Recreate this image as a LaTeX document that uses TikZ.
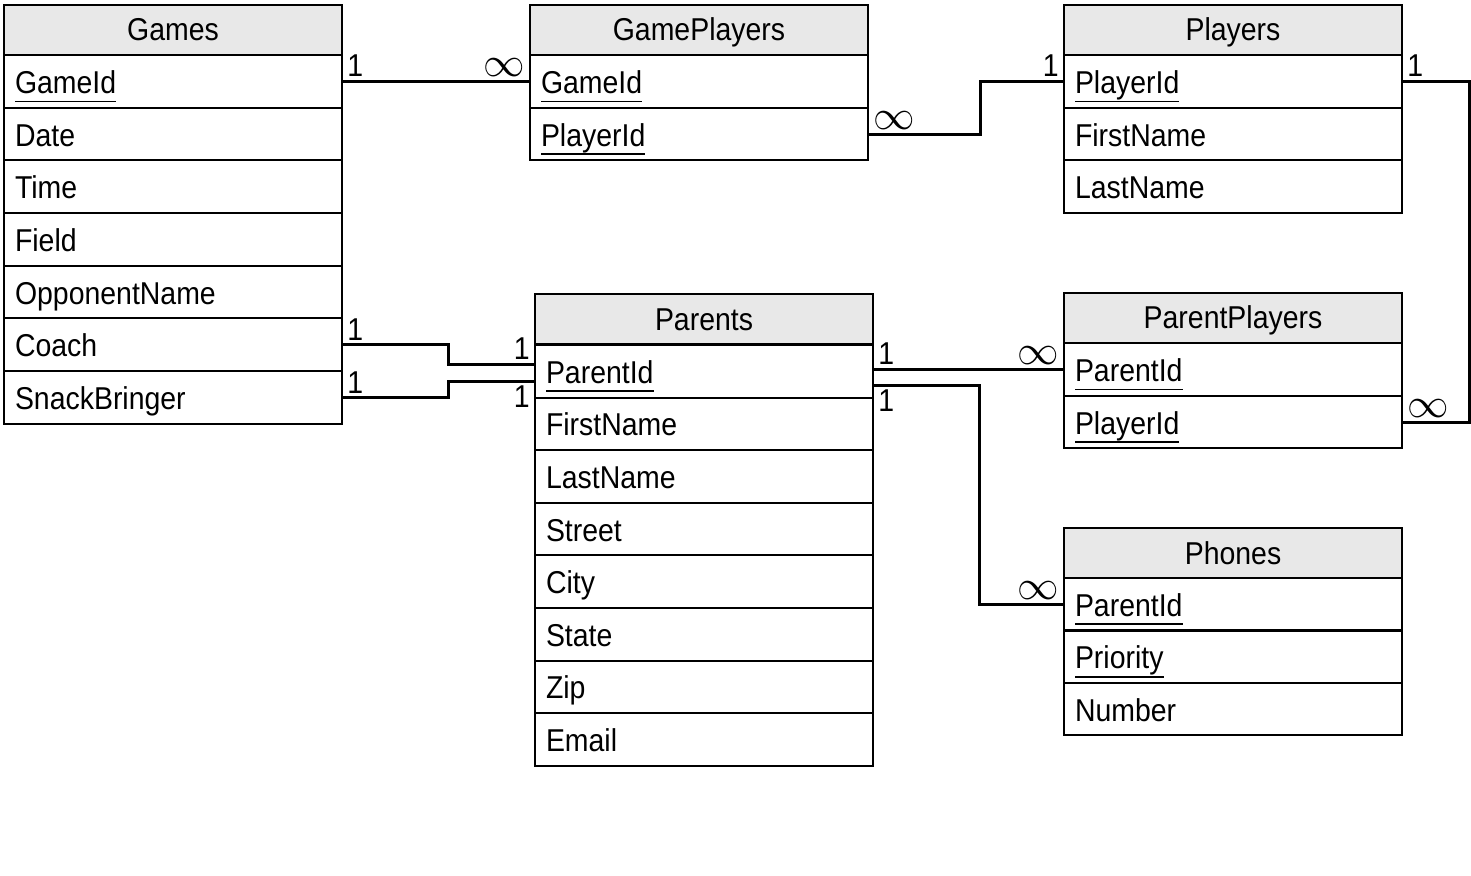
\documentclass[tikz,border=0pt]{standalone}
\usepackage{fontspec}
\setmainfont{Liberation Sans}[FakeStretch=0.9]
\usetikzlibrary{positioning,calc}

\newcommand\erfont{\fontsize{15.8}{18}\selectfont}
\newcommand\pkey[1]{\setbox0\hbox{#1}\rlap{\rule[-4.5pt]{\wd0}{0.9pt}}\box0}
\newcommand\many{{\fontsize{20}{20}\selectfont$\infty$}}

\tikzset{
  tblhead/.style={draw, line width=1pt, fill=black!9, minimum width=169pt,
    minimum height=25pt, inner sep=0pt, text height=14pt, text depth=3pt,
    font=\erfont},
  tblrow/.style={draw, line width=1pt, text width=158pt, inner xsep=5.5pt,
    inner ysep=0pt, minimum height=26.35pt, text height=14.5pt,
    text depth=2.5pt, align=left, font=\erfont},
  rel/.style={line width=1.5pt},
  card/.style={inner sep=2pt, font=\erfont}
}

\begin{document}
\begin{tikzpicture}[x=0.5pt,y=-0.5pt]

\useasboundingbox (0,0) rectangle (1471,876);

% Games
\node[tblhead] (games) at (173,30) {Games};
\foreach \i/\t in {
1/\pkey{GameId},2/Date,3/Time,4/Field,
5/OpponentName,6/Coach,7/SnackBringer
}
{
\node[tblrow] (games-\i) at (173,{55+(\i-0.5)*52.7}) {\t};
}

% GamePlayers
\node[tblhead] (gp) at (699,30) {GamePlayers};
\foreach \i/\t in {1/\pkey{GameId},2/\pkey{PlayerId}}
{
\node[tblrow] (gp-\i) at (699,{55+(\i-0.5)*52.7}) {\t};
}

% Players
\node[tblhead] (pl) at (1233,30) {Players};
\foreach \i/\t in {1/\pkey{PlayerId},2/FirstName,3/LastName}
{
\node[tblrow] (pl-\i) at (1233,{55+(\i-0.5)*52.7}) {\t};
}

% Parents
\node[tblhead] (pa) at (704,319.5) {Parents};
\foreach \i/\t in {
1/\pkey{ParentId},2/FirstName,3/LastName,4/Street,
5/City,6/State,7/Zip,8/Email
}
{
\node[tblrow] (pa-\i) at (704,{345+(\i-0.5)*52.6}) {\t};
}

% ParentPlayers
\node[tblhead] (pp) at (1233,318) {ParentPlayers};
\foreach \i/\t in {1/\pkey{ParentId},2/\pkey{PlayerId}}
{
\node[tblrow] (pp-\i) at (1233,{343+(\i-0.5)*52.7}) {\t};
}

% Phones
\node[tblhead] (ph) at (1233,553) {Phones};
\foreach \i/\t in {1/\pkey{ParentId},2/\pkey{Priority},3/Number}
{
\node[tblrow] (ph-\i) at (1233,{578+(\i-0.5)*52.4}) {\t};
}

% Relations
\coordinate (pa-in1) at ($(pa-1.west)+(0,-7)$);
\coordinate (pa-in2) at ($(pa-1.west)+(0,10)$);
\coordinate (pa-out2) at ($(pa-1.east)+(0,14)$);

\draw[rel] (games-1.east) -- (gp-1.west);
\draw[rel] (gp-2.east) -- ++(111,0) |- (pl-1.west);
\draw[rel] (pl-1.east) -- ++(66,0) |- (pp-2.east);
\draw[rel] (games-6.east) -- ++(105,0) |- (pa-in1);
\draw[rel] (games-7.east) -- ++(105,0) |- (pa-in2);
\draw[rel] (pp-1.west -| pa-1.east) -- (pp-1.west);
\draw[rel] (pa-out2) -- ++(105,0) |- (ph-1.west);

% Cardinalities
\node[card, above right] at (games-1.east) {1};
\node[card, above left] at (gp-1.west) {\many};
\node[card, above right] at (gp-2.east) {\many};
\node[card, above left] at (pl-1.west) {1};
\node[card, above right] at (pl-1.east) {1};
\node[card, above right] at (pp-2.east) {\many};
\node[card, above right] at (games-6.east) {1};
\node[card, above right] at (games-7.east) {1};
\node[card, above left] at (pa-in1) {1};
\node[card, below left] at (pa-in2) {1};
\node[card, above right] at (pp-1.west -| pa-1.east) {1};
\node[card, above left] at (pp-1.west) {\many};
\node[card, below right] at (pa-out2) {1};
\node[card, above left] at (ph-1.west) {\many};

\end{tikzpicture}
\end{document}
